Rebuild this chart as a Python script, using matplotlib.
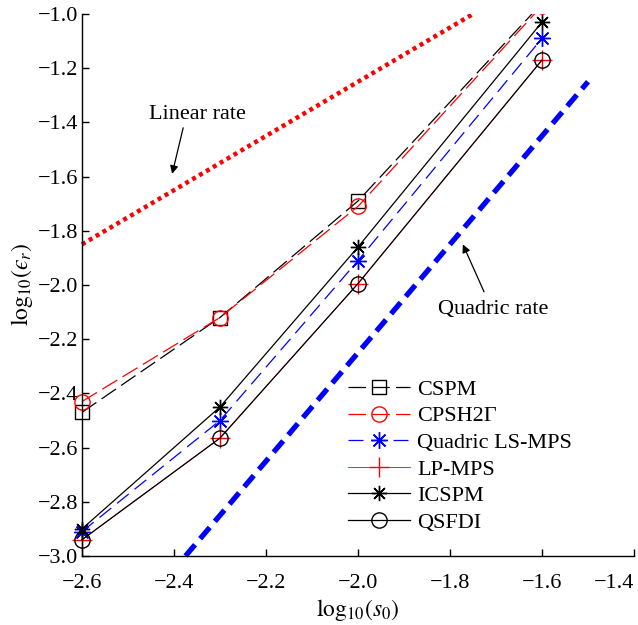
# convergence plot: log10 error vs log10 particle spacing
import matplotlib
matplotlib.use("Agg")
import matplotlib.pyplot as plt
from matplotlib.patches import Rectangle

plt.rcParams['font.family'] = ['Liberation Serif', 'DejaVu Serif']
plt.rcParams['mathtext.fontset'] = 'stix'

# data
log_s0 = [-2.6, -2.3, -2.0, -1.6]
cspm = [-2.47, -2.12, -1.69, -0.96]
cpsh2g = [-2.43, -2.12, -1.71, -0.97]
ls_mps = [-2.91, -2.50, -1.91, -1.09]
lp_mps = [-2.94, -2.565, -1.995, -1.17]
icspm = [-2.90, -2.45, -1.86, -1.03]
qsfdi = [-2.94, -2.565, -1.995, -1.17]

# reference slopes
linear_x = [-2.6, -1.75]
linear_y = [-1.85, -1.0]
quad_x = [-2.375, -1.5]
quad_y = [-3.0, -1.25]

asterisk = (8, 2, 0)

fig = plt.figure(figsize=(6.38, 6.25), dpi=100)
ax = fig.add_axes([0.1285, 0.1104, 0.8652, 0.8672])

# clip at the top only, let markers spill over the left/bottom axes
clip = Rectangle((-0.1, -0.1), 1.2, 1.1, transform=ax.transAxes,
                 facecolor='none', edgecolor='none')
ax.add_patch(clip)

lines = []
lines += ax.plot(linear_x, linear_y, color='red', lw=3.2, ls=(0, (0.9, 0.9)),
                 dash_capstyle='butt')
lines += ax.plot(quad_x, quad_y, color='blue', lw=3.8, ls=(0, (2.8, 1.5)),
                 dash_capstyle='butt')

lines += ax.plot(log_s0, cspm, color='black', lw=0.9, ls=(0, (14, 5)),
                 marker='s', ms=10, mfc='none', mew=1.0, label='CSPM')
lines += ax.plot(log_s0, cpsh2g, color='red', lw=0.9, ls=(0, (14, 5)),
                 marker='o', ms=11, mfc='none', mew=1.0, label='CPSH2Γ')
lines += ax.plot(log_s0, ls_mps, color='blue', lw=0.9, ls=(0, (12, 6)),
                 marker=asterisk, ms=12, mew=1.0, label='Quadric LS-MPS')
lines += ax.plot(log_s0, lp_mps, color='red', lw=0.6, ls='-',
                 marker='+', ms=14, mew=1.0, label='LP-MPS')
lines += ax.plot(log_s0, icspm, color='black', lw=0.9, ls='-',
                 marker=asterisk, ms=11, mew=1.0, label='ICSPM')
lines += ax.plot(log_s0, qsfdi, color='black', lw=0.9, ls='-',
                 marker='o', ms=11, mfc='none', mew=1.0, label='QSFDI')
for ln in lines:
    ln.set_clip_path(clip)

# rate labels with arrows
ax.text(-2.35, -1.37, 'Linear rate', fontsize=16, ha='center', va='center')
ax.annotate('', xy=(-2.404, -1.59), xytext=(-2.38, -1.42),
            arrowprops=dict(arrowstyle='-|>', color='black', lw=0.9,
                            mutation_scale=12, shrinkA=0, shrinkB=0))
ax.text(-1.707, -2.09, 'Quadric rate', fontsize=16, ha='center', va='center')
ax.annotate('', xy=(-1.772, -1.85), xytext=(-1.726, -2.025),
            arrowprops=dict(arrowstyle='-|>', color='black', lw=0.9,
                            mutation_scale=12, shrinkA=0, shrinkB=0))

ax.set_xlim(-2.6, -1.4)
ax.set_ylim(-3.0, -1.0)
xt = [-2.6, -2.4, -2.2, -2.0, -1.8, -1.6, -1.4]
yt = [-3.0, -2.8, -2.6, -2.4, -2.2, -2.0, -1.8, -1.6, -1.4, -1.2, -1.0]
ax.set_xticks(xt)
ax.set_yticks(yt)
ax.set_xticklabels([f'{v:.1f}'.replace('-', '\u2212') for v in xt])
ax.set_yticklabels([f'{v:.1f}'.replace('-', '\u2212') for v in yt])
ax.tick_params(direction='in', length=5, width=1, labelsize=16)
ax.tick_params(axis='x', pad=13)
ax.tick_params(axis='y', pad=3)
# last x label sits at the figure edge
ax.get_xticklabels()[-1].set_ha('right')
ax.get_xticklabels()[-1].set_x(-1.4)
ax.spines['top'].set_visible(False)
ax.spines['right'].set_visible(False)
for s in ('left', 'bottom'):
    ax.spines[s].set_linewidth(1.0)

ax.set_xlabel(r'$\mathrm{log}_{10}(s_0)$', fontsize=17, labelpad=3)
ax.set_ylabel('$\\mathrm{log}_{10}(\u03f5_r)$', fontsize=17, labelpad=2)

ax.legend(loc='upper left', bbox_to_anchor=(0.482, 0.326), frameon=False,
          fontsize=16, borderpad=0, borderaxespad=0, handlelength=2.8,
          handletextpad=0.3, labelspacing=0.27)

fig.savefig('out.png', dpi=100)
